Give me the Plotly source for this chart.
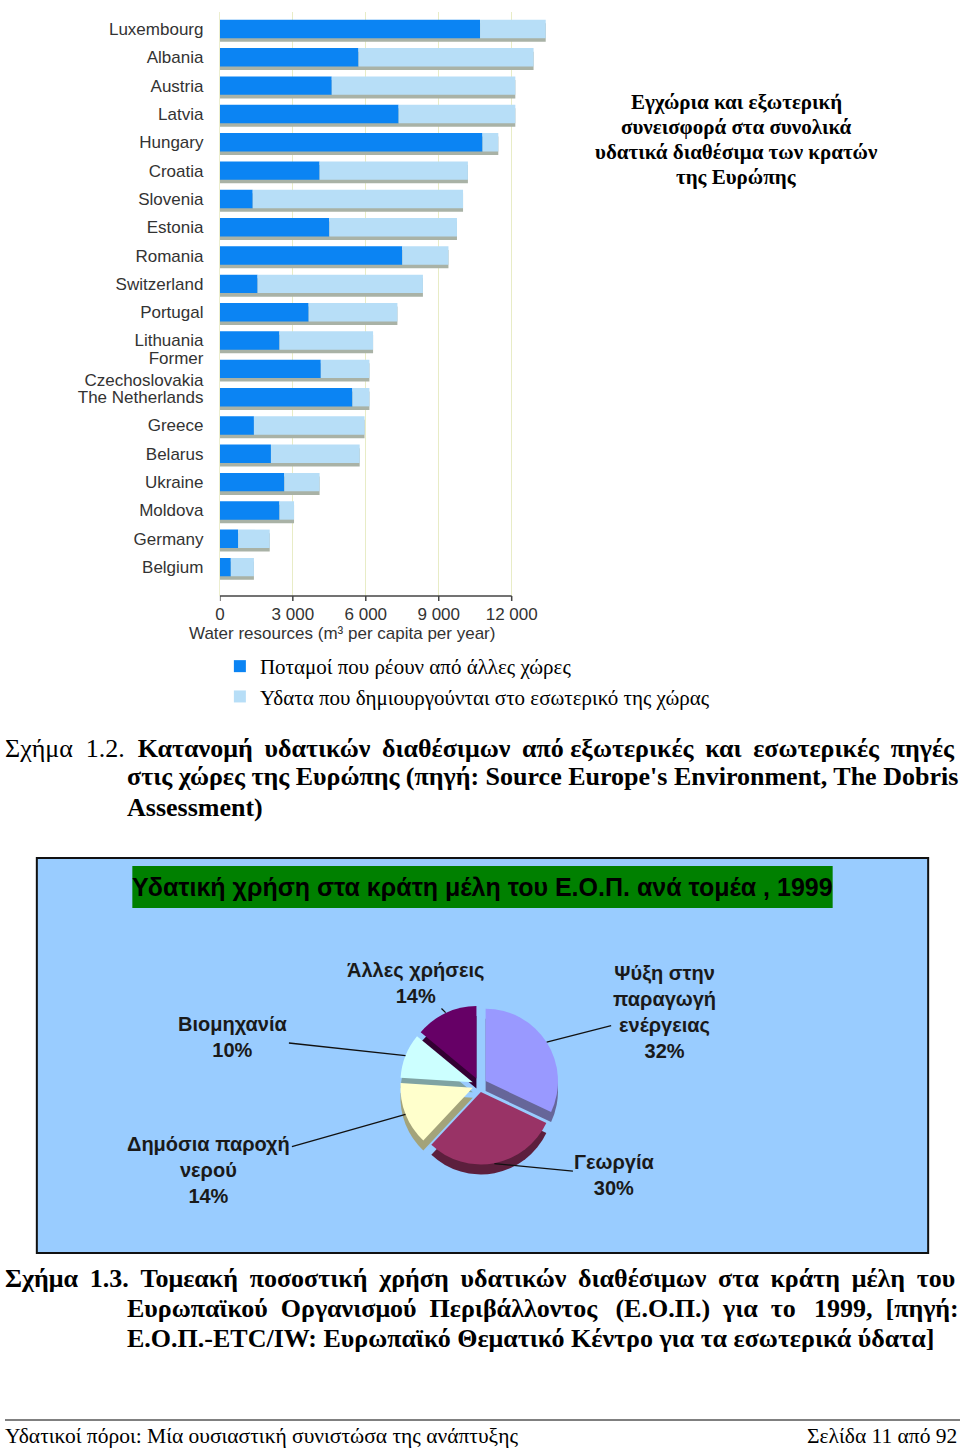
import math
import plotly.graph_objects as go

W, H = 960, 1449

# ---- Figure 1.2: water resources per capita (m3 per capita per year) ----
countries = [
    "Luxembourg", "Albania", "Austria", "Latvia", "Hungary", "Croatia",
    "Slovenia", "Estonia", "Romania", "Switzerland", "Portugal", "Lithuania",
    "Former<br>Czechoslovakia", "The Netherlands", "Greece", "Belarus",
    "Ukraine", "Moldova", "Germany", "Belgium",
]
external = [10700, 5700, 4600, 7350, 10800, 4100, 1350, 4500, 7500, 1550,
            3650, 2450, 4150, 5450, 1400, 2100, 2650, 2450, 750, 450]
internal = [2700, 7200, 7550, 4800, 650, 6100, 8650, 5250, 1900, 6800,
            3650, 3850, 2000, 700, 4550, 3650, 1450, 600, 1300, 950]
x_ticks = [0, 3000, 6000, 9000, 12000]
x_ticktext = ["0", "3 000", "6 000", "9 000", "12 000"]

# ---- Figure 1.3: water use by sector, 1999 ----
sectors = ["Ψύξη στην<br>παραγωγή<br>ενέργειας", "Γεωργία",
           "Δημόσια παροχή<br>νερού", "Βιομηχανία", "Άλλες χρήσεις"]
shares = [32, 30, 14, 10, 14]
pie_colors = ["#9999ff", "#993366", "#ffffcc", "#ccffff", "#660066"]
pie_side = ["#666699", "#5c1f3d", "#a3a37a", "#7fa3a3", "#330033"]

totals = [e + i for e, i in zip(external, internal)]

def px(x):
    return x / W

def py(y):
    return (H - y) / H

serif = "Liberation Serif, Times New Roman, serif"
sans = "Liberation Sans, Arial, sans-serif"

fig = go.Figure()

# grey drop shadow under each bar
fig.add_trace(go.Bar(
    y=list(range(len(countries))), x=totals, orientation="h",
    width=0.65, offset=-0.2, marker=dict(color="#a9b2a6", line_width=0),
    showlegend=False, hoverinfo="skip",
))
fig.add_trace(go.Bar(
    y=list(range(len(countries))), x=external, orientation="h", width=0.65,
    marker=dict(color="#0b84f3", line_width=0),
    name="Ποταμοί που ρέουν από άλλες χώρες",
))
fig.add_trace(go.Bar(
    y=list(range(len(countries))), x=internal, base=external, orientation="h",
    width=0.65, marker=dict(color="#b7def7", line_width=0),
    name="Υδατα που δημιουργούνται στο εσωτερικό της χώρας",
))

# pie: dark "side" layer shifted down, then the top face
pcx, pcy, pr = 477, 1085, 80
for colors, dy in [(pie_side, 10), (pie_colors, 0)]:
    fig.add_trace(go.Pie(
        values=shares, labels=[s.replace("<br>", " ") for s in sectors],
        sort=False, direction="clockwise", rotation=0,
        pull=[0.1] * len(shares), textinfo="none", showlegend=False,
        marker=dict(colors=colors, line=dict(width=0)),
        hoverinfo="skip" if dy else "label+percent",
        domain=dict(x=[px(pcx - pr), px(pcx + pr)],
                    y=[py(pcy + dy + pr), py(pcy + dy - pr)]),
    ))

fig.update_layout(
    width=W, height=H,
    margin=dict(l=0, r=0, t=0, b=0),
    paper_bgcolor="white", plot_bgcolor="white",
    barmode="overlay",
    xaxis=dict(
        domain=[px(216), px(546)], range=[0, 13500],
        tickvals=x_ticks, ticktext=x_ticktext,
        showgrid=True, gridcolor="#e8ecc6", gridwidth=1, zeroline=False,
        showline=False, ticks="", ticklabelstandoff=6,
        tickfont=dict(family=sans, size=17, color="#333"),
    ),
    yaxis=dict(
        domain=[py(596), py(12)], range=[20.02, -0.6],
        tickvals=list(range(len(countries))), ticktext=countries,
        showgrid=False, zeroline=False, showline=True, linecolor="#eceecf",
        ticks="", ticklabelstandoff=12,
        tickfont=dict(family=sans, size=17, color="#333"),
    ),
    legend=dict(
        x=px(216), y=py(646), xanchor="left", yanchor="top",
        font=dict(family=serif, size=21, color="black"),
        bgcolor="rgba(0,0,0,0)", tracegroupgap=0, itemwidth=30,
    ),
)

shapes = [
    # x axis line stopping at 12 000, with tick marks
    dict(type="line", xref="x", yref="paper", x0=0, x1=12000,
         y0=py(596), y1=py(596), line=dict(color="#444", width=1.5)),
    # pie frame and title box
    dict(type="rect", xref="paper", yref="paper", x0=px(32), x1=px(928),
         y0=py(1253), y1=py(858), fillcolor="#99ccff",
         line=dict(color="#111", width=2), layer="below"),
    dict(type="rect", xref="paper", yref="paper", x0=px(128), x1=px(832),
         y0=py(908), y1=py(866), fillcolor="#008000", line_width=0, layer="below"),
    # footer rule
    dict(type="line", xref="paper", yref="paper", x0=0, x1=1,
         y0=py(1420), y1=py(1420), line=dict(color="black", width=1)),
]
for t in x_ticks:
    shapes.append(dict(type="line", xref="x", yref="paper", x0=t, x1=t,
                       y0=py(596), y1=py(601), line=dict(color="#444", width=1.5)))
fig.update_layout(shapes=shapes)

ann = []

def text(x, y, s, size, family=serif, anchor="left", weight="normal", color="black"):
    ann.append(dict(x=px(x), y=py(y), xref="paper", yref="paper", text=s,
                    showarrow=False, xanchor=anchor, yanchor="middle", align="center",
                    font=dict(family=family, size=size, color=color, weight=weight)))

def gaps(words, spaces):
    # join words with wider gaps to imitate the justified lines
    out = words[0]
    for w, g in zip(words[1:], spaces):
        out += g + w
    return out

T = " \u2009"   # space + thin space
D = "  "        # double space

text(339, 633, "Water resources (m³ per capita per year)", 17, sans, "center", color="#333")
for i, line in enumerate(["Εγχώρια και εξωτερική", "συνεισφορά στα συνολικά",
                          "υδατικά διαθέσιμα των κρατών", "της Ευρώπης"]):
    text(735, 102 + 25 * i, line, 21, anchor="center", weight="bold")

cap_a = "Κατανομή υδατικών διαθέσιμων από εξωτερικές και εσωτερικές πηγές".split()
text(-2, 748, "Σχήμα  1.2.  <b>" + gaps(cap_a, [T, T, T, " ", T, T, T]) + "</b>", 26)
text(121, 777, "<b>στις χώρες της Ευρώπης (πηγή: Source Europe's Environment, The Dobris</b>", 26)
text(121, 807, "<b>Assessment)</b>", 26)

text(480, 887, "Υδατική χρήση στα κράτη μέλη του Ε.Ο.Π. ανά τομέα , 1999", 25, sans, "center", "bold")

cap_b1 = "Σχήμα 1.3. Τομεακή ποσοστική χρήση υδατικών διαθέσιμων στα κράτη μέλη του".split()
cap_b2 = "Ευρωπαϊκού Οργανισμού Περιβάλλοντος (Ε.Ο.Π.) για το 1999, [πηγή:".split()
text(-2, 1278, "<b>" + gaps(cap_b1, [T] * 10) + "</b>", 26)
text(121, 1308, "<b>" + gaps(cap_b2, [D, D, D + "\u2009", D, D, D + "\u2009", D]) + "</b>", 26)
text(121, 1338, "<b>Ε.Ο.Π.-ETC/IW: Ευρωπαϊκό Θεματικό Κέντρο για τα εσωτερικά ύδατα]</b>", 26)

text(-2, 1436, "Υδατικοί πόροι: Μία ουσιαστική συνιστώσα της ανάπτυξης", 21.5)
text(959, 1436, "Σελίδα 11 από 92", 21.5, anchor="right")

# pie labels with leader lines to the slices
label_pos = [(662, 1012), (612, 1175), (206, 1170), (230, 1037), (413, 983)]
start = 0.0
for name, val, (tx, ty) in zip(sectors, shares, label_pos):
    mid = math.radians((start + val / 2) * 3.6)
    start += val
    reach = pr * 1.0
    x0 = pcx + reach * math.sin(mid)
    y0 = pcy - reach * math.cos(mid)
    ann.append(dict(
        x=px(x0), y=py(y0), xref="paper", yref="paper",
        text=f"{name}<br>{val}%", showarrow=True, arrowhead=0, arrowwidth=1.3,
        arrowcolor="#111", ax=tx - x0, ay=ty - y0, standoff=0,
        font=dict(family=sans, size=20, color="#1a1a1a", weight="bold"),
        align="center",
    ))

fig.update_layout(annotations=ann)

fig.write_html("out.html", config={"displayModeBar": False},
               post_script="document.body.style.margin='0';")
